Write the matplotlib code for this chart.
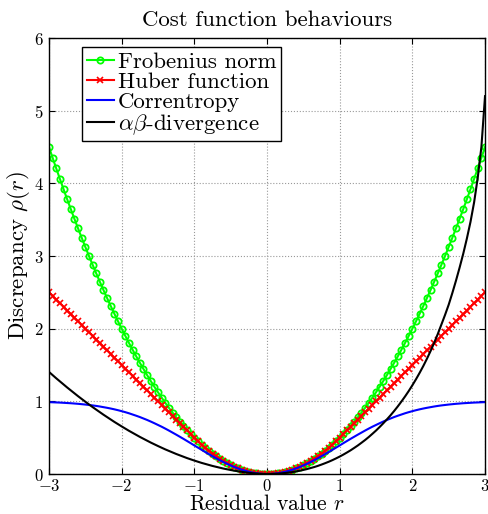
import numpy as np
import matplotlib
import matplotlib.pyplot as plt

matplotlib.use('Agg')

plt.rcParams['font.family'] = 'serif'
plt.rcParams['font.serif'] = ['cmr10', 'DejaVu Serif']
plt.rcParams['mathtext.fontset'] = 'cm'
plt.rcParams['axes.formatter.use_mathtext'] = True
plt.rcParams['axes.unicode_minus'] = True

# residual grid, step 0.05
r = np.linspace(-3, 3, 121)

frobenius = [
    4.5, 4.351, 4.205, 4.061, 3.92, 3.781, 3.645, 3.511, 3.38, 3.251,
    3.125, 3.001, 2.88, 2.761, 2.645, 2.531, 2.42, 2.311, 2.205, 2.101,
    2.0, 1.901, 1.805, 1.711, 1.62, 1.531, 1.445, 1.361, 1.28, 1.201,
    1.125, 1.051, 0.98, 0.911, 0.845, 0.781, 0.72, 0.661, 0.605, 0.551,
    0.5, 0.451, 0.405, 0.361, 0.32, 0.281, 0.245, 0.211, 0.18, 0.151,
    0.125, 0.101, 0.08, 0.061, 0.045, 0.031, 0.02, 0.011, 0.005, 0.001,
    0.0,
    0.001, 0.005, 0.011, 0.02, 0.031, 0.045, 0.061, 0.08, 0.101, 0.125,
    0.151, 0.18, 0.211, 0.245, 0.281, 0.32, 0.361, 0.405, 0.451, 0.5,
    0.551, 0.605, 0.661, 0.72, 0.781, 0.845, 0.911, 0.98, 1.051, 1.125,
    1.201, 1.28, 1.361, 1.445, 1.531, 1.62, 1.711, 1.805, 1.901, 2.0,
    2.101, 2.205, 2.311, 2.42, 2.531, 2.645, 2.761, 2.88, 3.001, 3.125,
    3.251, 3.38, 3.511, 3.645, 3.781, 3.92, 4.061, 4.205, 4.351, 4.5,
]

huber = [
    2.5, 2.45, 2.4, 2.35, 2.3, 2.25, 2.2, 2.15, 2.1, 2.05,
    2.0, 1.95, 1.9, 1.85, 1.8, 1.75, 1.7, 1.65, 1.6, 1.55,
    1.5, 1.45, 1.4, 1.35, 1.3, 1.25, 1.2, 1.15, 1.1, 1.05,
    1.0, 0.95, 0.9, 0.85, 0.8, 0.75, 0.7, 0.65, 0.6, 0.55,
    0.5, 0.451, 0.405, 0.361, 0.32, 0.281, 0.245, 0.211, 0.18, 0.151,
    0.125, 0.101, 0.08, 0.061, 0.045, 0.031, 0.02, 0.011, 0.005, 0.001,
    0.0,
    0.001, 0.005, 0.011, 0.02, 0.031, 0.045, 0.061, 0.08, 0.101, 0.125,
    0.151, 0.18, 0.211, 0.245, 0.281, 0.32, 0.361, 0.405, 0.451, 0.5,
    0.55, 0.6, 0.65, 0.7, 0.75, 0.8, 0.85, 0.9, 0.95, 1.0,
    1.05, 1.1, 1.15, 1.2, 1.25, 1.3, 1.35, 1.4, 1.45, 1.5,
    1.55, 1.6, 1.65, 1.7, 1.75, 1.8, 1.85, 1.9, 1.95, 2.0,
    2.05, 2.1, 2.15, 2.2, 2.25, 2.3, 2.35, 2.4, 2.45, 2.5,
]

correntropy = [
    0.989, 0.987, 0.985, 0.983, 0.980, 0.977, 0.974, 0.970, 0.966, 0.961,
    0.956, 0.950, 0.944, 0.937, 0.929, 0.920, 0.911, 0.901, 0.890, 0.878,
    0.865, 0.851, 0.836, 0.819, 0.802, 0.784, 0.764, 0.744, 0.722, 0.699,
    0.675, 0.651, 0.625, 0.598, 0.570, 0.542, 0.513, 0.484, 0.454, 0.424,
    0.393, 0.363, 0.333, 0.303, 0.274, 0.245, 0.217, 0.190, 0.165, 0.140,
    0.118, 0.096, 0.077, 0.059, 0.044, 0.031, 0.020, 0.011, 0.005, 0.001,
    0.0,
    0.001, 0.005, 0.011, 0.020, 0.031, 0.044, 0.059, 0.077, 0.096, 0.118,
    0.140, 0.165, 0.190, 0.217, 0.245, 0.274, 0.303, 0.333, 0.363, 0.393,
    0.424, 0.454, 0.484, 0.513, 0.542, 0.570, 0.598, 0.625, 0.651, 0.675,
    0.699, 0.722, 0.744, 0.764, 0.784, 0.802, 0.819, 0.836, 0.851, 0.865,
    0.878, 0.890, 0.901, 0.911, 0.920, 0.929, 0.937, 0.944, 0.950, 0.956,
    0.961, 0.966, 0.970, 0.974, 0.977, 0.980, 0.983, 0.985, 0.987, 0.989,
]

ab_divergence = [
    1.405, 1.361, 1.317, 1.275, 1.233, 1.191, 1.151, 1.111, 1.071, 1.033,
    0.995, 0.958, 0.921, 0.886, 0.851, 0.816, 0.783, 0.750, 0.717, 0.686,
    0.655, 0.625, 0.595, 0.567, 0.539, 0.511, 0.485, 0.459, 0.433, 0.409,
    0.385, 0.362, 0.339, 0.318, 0.297, 0.276, 0.257, 0.238, 0.219, 0.202,
    0.185, 0.169, 0.153, 0.139, 0.125, 0.111, 0.099, 0.087, 0.075, 0.065,
    0.055, 0.046, 0.038, 0.030, 0.023, 0.017, 0.011, 0.007, 0.003, 0.001,
    0.0,
    0.001, 0.002, 0.005, 0.009, 0.014, 0.020, 0.027, 0.036, 0.045, 0.056,
    0.068, 0.082, 0.096, 0.112, 0.130, 0.149, 0.169, 0.191, 0.215, 0.240,
    0.267, 0.296, 0.326, 0.359, 0.393, 0.430, 0.468, 0.509, 0.553, 0.598,
    0.647, 0.698, 0.752, 0.808, 0.868, 0.931, 0.998, 1.068, 1.142, 1.221,
    1.304, 1.392, 1.485, 1.585, 1.691, 1.805, 1.927, 2.058, 2.19, 2.33,
    2.49, 2.66, 2.84, 3.03, 3.24, 3.47, 3.74, 4.08, 4.50, 5.2,
]

labels = ['Frobenius norm', 'Huber function', 'Correntropy',
          r'$\alpha\beta$-divergence']

fig = plt.figure(figsize=(4.88, 5.14), dpi=100)
ax = fig.add_axes([0.1004, 0.0778, 0.8935, 0.8482])

ax.plot(r, frobenius, '-o', color=(0, 1, 0), lw=1.5, ms=4.5,
        mfc='none', mew=1.3, label=labels[0])
ax.plot(r, huber, '-x', color=(1, 0, 0), lw=1.5, ms=4, mew=1.2,
        label=labels[1])
ax.plot(r, correntropy, '-', color=(0, 0, 1), lw=1.5, label=labels[2])
ax.plot(r, ab_divergence, '-', color='black', lw=1.5, label=labels[3])

ax.set_xlim(-3, 3)
ax.set_ylim(0, 6)
ax.set_xticks(range(-3, 4))
ax.set_yticks(range(0, 7))
ax.grid(True, linestyle=':', color='#999999', lw=0.8)
ax.tick_params(direction='in', top=True, right=True, labelsize=12,
               length=4, width=0.8)
ax.tick_params(axis='x', pad=3)
ax.tick_params(axis='y', pad=4)
for s in ax.spines.values():
    s.set_linewidth(1.0)

ax.set_title('Cost function behaviours', fontsize=16.5, pad=9)
ax.set_xlabel(r'Residual value $r$', fontsize=15.5, labelpad=0)
ax.set_ylabel(r'Discrepancy $\rho(r)$', fontsize=16.5, labelpad=1)

leg = ax.legend(loc='upper left', bbox_to_anchor=(0.0757, 0.979),
                borderaxespad=0, fontsize=16.5, numpoints=1,
                handlelength=1.2, handletextpad=0.18, labelspacing=0.0,
                borderpad=0.2, fancybox=False, framealpha=1)
leg.get_frame().set_edgecolor('black')
leg.get_frame().set_linewidth(1.0)

plt.savefig('out.png', dpi=100)
plt.close()
